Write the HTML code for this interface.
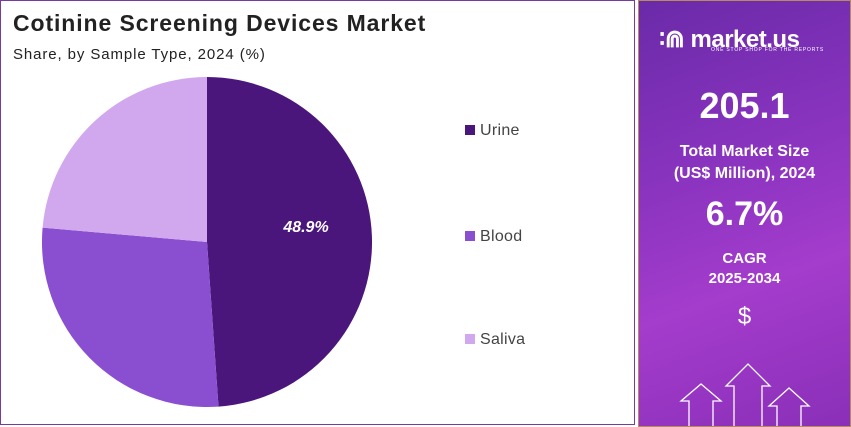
<!DOCTYPE html>
<html><head><style>
body{margin:0;width:851px;height:427px;background:#fff;font-family:"Liberation Sans",sans-serif;overflow:hidden;position:relative}
.lp{position:absolute;left:0;top:0;width:635px;height:425px;border:1px solid #7a3a9a;box-sizing:border-box}
.rp{position:absolute;left:638px;top:0;width:213px;height:427px;background:linear-gradient(160deg,#6a2aa8 0%,#8b34c0 40%,#a43ccc 65%,#8a2fb8 100%);border:1px solid #b88a60;box-sizing:border-box;color:#fff;text-align:center;overflow:hidden}
.t{position:absolute;left:13px;top:10px;font-size:23px;font-weight:bold;color:#222;letter-spacing:0.9px}
.s{position:absolute;left:13px;top:46px;font-size:15px;color:#222;letter-spacing:0.9px}
.lg{position:absolute;left:465px;font-size:16px;color:#444;letter-spacing:0.3px}
.lg i{display:inline-block;width:10px;height:10px;margin-right:5px;vertical-align:0}
</style></head><body>
<div class="lp"></div>
<div class="t">Cotinine Screening Devices Market</div>
<div class="s">Share, by Sample Type, 2024 (%)</div>
<svg style="position:absolute;left:0;top:0" width="636" height="427">
<path d="M207,242 L207,77 A165,165 0 0 1 218.5,406.6 Z" fill="#4b167c"/>
<path d="M207,242 L218.5,406.6 A165,165 0 0 1 42.6,227.6 Z" fill="#8a4fd0"/>
<path d="M207,242 L42.6,227.6 A165,165 0 0 1 207,77 Z" fill="#d1a7ee"/>
<text x="306" y="232" fill="#fff" font-size="16" font-weight="bold" font-style="italic" text-anchor="middle" font-family="Liberation Sans">48.9%</text>
</svg>
<div class="lg" style="top:122px"><i style="background:#4b167c"></i>Urine</div>
<div class="lg" style="top:228px"><i style="background:#8a4fd0"></i>Blood</div>
<div class="lg" style="top:331px"><i style="background:#d1a7ee"></i>Saliva</div>
<div class="rp">
<div style="position:absolute;left:20px;top:24px;font-size:24px;font-weight:bold;letter-spacing:-0.5px">&#8758;⋒ market.us</div>
<div style="position:absolute;left:72px;top:46px;font-size:5px;letter-spacing:0.8px">ONE STOP SHOP FOR THE REPORTS</div>
<div style="position:absolute;width:100%;top:84px;font-size:36px;font-weight:bold">205.1</div>
<div style="position:absolute;width:100%;top:140px;font-size:16px;font-weight:bold;line-height:22px">Total Market Size<br>(US$ Million), 2024</div>
<div style="position:absolute;width:100%;top:194px;font-size:34px;font-weight:bold">6.7%</div>
<div style="position:absolute;width:100%;top:248px;font-size:15px;font-weight:bold;line-height:20px">CAGR<br>2025-2034</div>
<div style="position:absolute;width:100%;top:302px;font-size:24px">$</div>
<svg style="position:absolute;left:0;top:355px" width="213" height="72" fill="none" stroke="#fff" stroke-width="1.3">
<path d="M50,72 V45 H42 L62,28 L82,45 H74 V72"/>
<path d="M95,72 V30 H87 L109,8 L131,30 H123 V72"/>
<path d="M138,72 V50 H130 L150,32 L170,50 H162 V72"/>
</svg>
</div>
</body></html>
